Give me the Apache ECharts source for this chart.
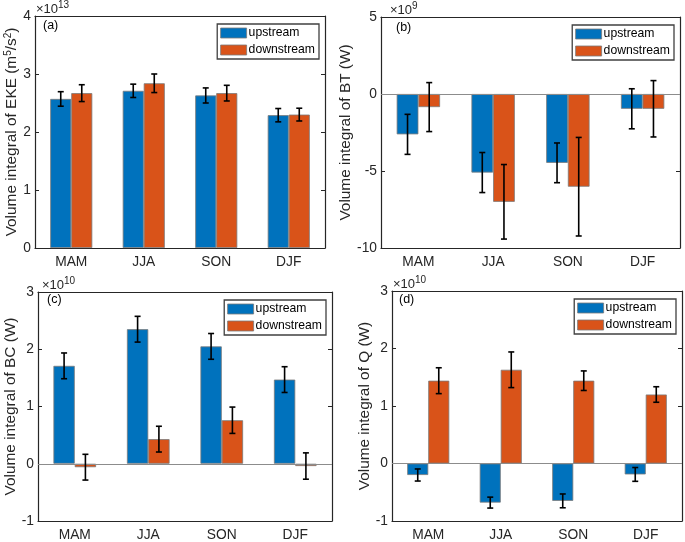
<!DOCTYPE html>
<html>
<head>
<meta charset="utf-8">
<script src="https://cdn.jsdelivr.net/npm/echarts@6/dist/echarts.min.js"></script>
<style>html,body{margin:0;padding:0;background:#fff;}#c{width:685px;height:542px;}</style>
</head>
<body>
<div id="c"></div>
<script>
// ---------- data ----------
const seasons = ['MAM', 'JJA', 'SON', 'DJF'];
const seriesNames = ['upstream', 'downstream'];

// (a) EKE, x1e13
const ekeUp = [2.57, 2.71, 2.63, 2.29];
const ekeUpErr = [0.125, 0.115, 0.13, 0.115];
const ekeDown = [2.67, 2.84, 2.67, 2.30];
const ekeDownErr = [0.145, 0.16, 0.135, 0.11];

// (b) BT, x1e9
const btUp = [-2.62, -5.10, -4.47, -0.96];
const btUpErr = [1.30, 1.30, 1.29, 1.30];
const btDown = [-0.85, -7.00, -6.02, -0.96];
const btDownErr = [1.59, 2.42, 3.20, 1.83];

// (c) BC, x1e10
const bcUp = [1.71, 2.35, 2.05, 1.47];
const bcUpErr = [0.225, 0.225, 0.225, 0.225];
const bcDown = [-0.06, 0.43, 0.76, -0.04];
const bcDownErr = [0.225, 0.225, 0.23, 0.23];

// (d) Q, x1e10
const qUp = [-0.20, -0.68, -0.65, -0.19];
const qUpErr = [0.105, 0.095, 0.12, 0.12];
const qDown = [1.44, 1.63, 1.44, 1.20];
const qDownErr = [0.225, 0.31, 0.17, 0.135];

// axis ranges / labels
const yRanges = [
  {min: 0, max: 4, interval: 1},
  {min: -10, max: 5, interval: 5},
  {min: -1, max: 3, interval: 1},
  {min: -1, max: 3, interval: 1}
];
const yNames = [
  'Volume integral of EKE (m{sup|5}/s{sup|2})',
  'Volume integral of BT (W)',
  'Volume integral of BC (W)',
  'Volume integral of Q (W)'
];
const exponents = ['13', '9', '10', '10'];
const panelLetters = ['(a)', '(b)', '(c)', '(d)'];

// ---------- layout / style ----------
const grids = [
  {left: 35, top: 16, width: 290, height: 232},
  {left: 381, top: 17, width: 299, height: 231},
  {left: 38, top: 292, width: 294, height: 230},
  {left: 392, top: 291, width: 290, height: 230}
];
const nameGaps = [14, 19, 16, 19];
const letterOff = [[8, 3], [15, 4], [9, 1], [7, 2]];
const expOff = [1, 9, 4, 1];
const BLUE = '#0072BD', ORANGE = '#D95319', AX = '#262626';
const FONT = 'Liberation Sans, Arial, Helvetica, sans-serif';

const panels = [
  [ekeUp, ekeUpErr, ekeDown, ekeDownErr],
  [btUp, btUpErr, btDown, btDownErr],
  [bcUp, bcUpErr, bcDown, bcDownErr],
  [qUp, qUpErr, qDown, qDownErr]
];

const xAxes = [], yAxes = [], series = [], legends = [], titles = [];

function errSeries(axisIdx, vals, errs, offFrac) {
  return {
    type: 'custom', name: 'err', xAxisIndex: axisIdx, yAxisIndex: axisIdx, z: 10,
    silent: true,
    data: vals.map((v, i) => [i, v, errs[i]]),
    renderItem: function (params, api) {
      const x = api.value(0), v = api.value(1), e = api.value(2);
      const band = api.size([1, 0])[0];
      const top = api.coord([x, v + e]);
      const bot = api.coord([x, v - e]);
      const cx = top[0] + offFrac * band;
      const hw = 3;
      const st = {stroke: '#000', lineWidth: 1.6};
      return {
        type: 'group',
        children: [
          {type: 'line', shape: {x1: cx, y1: top[1], x2: cx, y2: bot[1]}, style: st},
          {type: 'line', shape: {x1: cx - hw, y1: top[1], x2: cx + hw, y2: top[1]}, style: st},
          {type: 'line', shape: {x1: cx - hw, y1: bot[1], x2: cx + hw, y2: bot[1]}, style: st}
        ]
      };
    }
  };
}

const axLine = {show: true, onZero: false, lineStyle: {color: AX, width: 1.2}};

grids.forEach((g, i) => {
  const r = yRanges[i];
  xAxes.push({
    type: 'category', gridIndex: i, data: seasons, position: 'bottom',
    axisLine: axLine,
    axisTick: {inside: true, alignWithLabel: true, length: 4, lineStyle: {color: AX}},
    axisLabel: {color: AX, fontSize: 13.8, fontFamily: FONT, margin: 7},
    splitLine: {show: false}
  });
  xAxes.push({
    type: 'category', gridIndex: i, data: seasons, position: 'top',
    axisLine: axLine,
    axisTick: {inside: true, alignWithLabel: true, length: 4, lineStyle: {color: AX}},
    axisLabel: {show: false}, splitLine: {show: false}
  });
  yAxes.push({
    type: 'value', gridIndex: i, min: r.min, max: r.max, interval: r.interval, position: 'left',
    name: yNames[i], nameLocation: 'middle', nameGap: nameGaps[i],
    nameTextStyle: {
      color: AX, fontSize: 15.4, fontFamily: FONT,
      rich: {sup: {fontSize: 10, fontFamily: FONT, color: AX, padding: [0, 0, 7, 0]}}
    },
    axisLine: axLine,
    axisTick: {show: true, inside: true, length: 4, lineStyle: {color: AX}},
    axisLabel: {color: AX, fontSize: 13.8, fontFamily: FONT, margin: 4},
    splitLine: {show: false}
  });
  yAxes.push({
    type: 'value', gridIndex: i, min: r.min, max: r.max, interval: r.interval, position: 'right',
    axisLine: axLine,
    axisTick: {show: true, inside: true, length: 4, lineStyle: {color: AX}},
    axisLabel: {show: false}, splitLine: {show: false}
  });
  const d = panels[i];
  const ai = i * 2;
  series.push({
    type: 'bar', name: seriesNames[0], xAxisIndex: ai, yAxisIndex: ai, data: d[0],
    barWidth: '29%', barGap: '0%',
    itemStyle: {color: BLUE, borderColor: '#7a7a7a', borderWidth: 0.8},
    markLine: i === 0 ? undefined : {
      silent: true, symbol: 'none', label: {show: false},
      lineStyle: {color: '#8c8c8c', width: 1, type: 'solid'},
      data: [{yAxis: 0}]
    }
  });
  series.push({
    type: 'bar', name: seriesNames[1], xAxisIndex: ai, yAxisIndex: ai, data: d[2],
    barWidth: '29%', barGap: '0%',
    itemStyle: {color: ORANGE, borderColor: '#7a7a7a', borderWidth: 0.8}
  });
  series.push(errSeries(ai, d[0], d[1], -0.145));
  series.push(errSeries(ai, d[2], d[3], 0.145));

  legends.push({
    data: seriesNames, orient: 'vertical', icon: 'rect',
    right: 685 - (g.left + g.width) + 6, top: g.top + 8,
    itemWidth: 26, itemHeight: 10, itemGap: 5,
    padding: [3, 4, 3, 3],
    borderColor: '#404040', borderWidth: 1.3,
    backgroundColor: '#fff',
    textStyle: {color: '#000', fontSize: 12.2, fontFamily: FONT, padding: [0, 0, 0, -3]},
    itemStyle: {borderColor: '#7a7a7a', borderWidth: 0.8},
    selectedMode: false
  });
  titles.push({
    text: '{b|×10}{sup|' + exponents[i] + '}',
    left: g.left + expOff[i], top: g.top - 16,
    textStyle: {
      color: AX, fontSize: 13, fontWeight: 'normal', fontFamily: FONT,
      rich: {
        b: {fontSize: 13, color: AX, fontFamily: FONT},
        sup: {fontSize: 10, color: AX, fontFamily: FONT, padding: [0, 0, 8, 0]}
      }
    },
    padding: 0
  });
  titles.push({
    text: panelLetters[i], left: g.left + letterOff[i][0], top: g.top + letterOff[i][1], padding: 0,
    textStyle: {color: '#000', fontSize: 12.5, fontWeight: 'normal', fontFamily: FONT}
  });
});

xAxes.forEach((a, k) => a.gridIndex = Math.floor(k / 2));
yAxes.forEach((a, k) => a.gridIndex = Math.floor(k / 2));

const chart = echarts.init(document.getElementById('c'), null, {renderer: 'canvas'});
chart.setOption({
  animation: false,
  backgroundColor: '#fff',
  title: titles,
  legend: legends,
  grid: grids,
  xAxis: xAxes,
  yAxis: yAxes,
  series: series
});
</script>
</body>
</html>
